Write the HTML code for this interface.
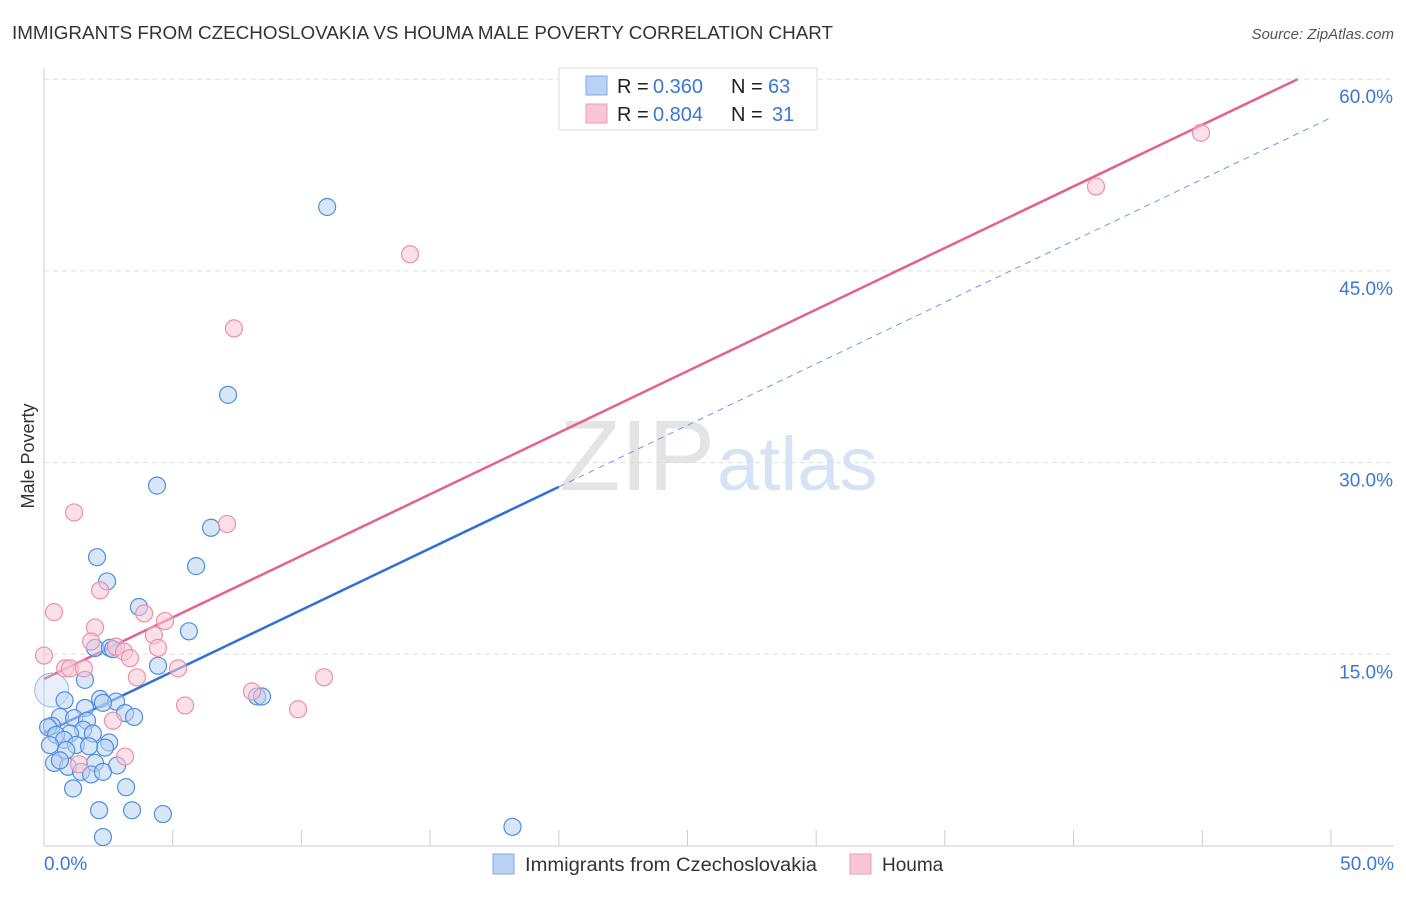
<!DOCTYPE html>
<html><head><meta charset="utf-8"><style>
body{margin:0;background:#fff;font-family:"Liberation Sans",sans-serif}
svg text{font-family:"Liberation Sans",sans-serif}
</style></head><body>
<svg id="chart" width="1406" height="892" xmlns="http://www.w3.org/2000/svg">
<text x="12" y="39" font-size="18" fill="#333" textLength="821" lengthAdjust="spacingAndGlyphs">IMMIGRANTS FROM CZECHOSLOVAKIA VS HOUMA MALE POVERTY CORRELATION CHART</text>
<text x="1394" y="39" font-size="15" fill="#555" font-style="italic" text-anchor="end">Source: ZipAtlas.com</text>
<text x="715" y="490" font-size="100" fill="#e4e4e4" text-anchor="end" font-family="Liberation Serif">ZIP</text>
<text x="717" y="490" font-size="76" fill="#d6e3f5">atlas</text>
<text x="34" y="456" font-size="18" fill="#333" text-anchor="middle" transform="rotate(-90 34 456)">Male Poverty</text>
<g id="grid"></g><g id="axes"></g><g id="lines"></g><g id="pts"></g>
<g>
<rect x="559" y="68" width="258" height="62" fill="#fff" stroke="#ddd"/>
<rect x="586" y="76" width="21" height="19" fill="#b9d2f3" stroke="#7faae6"/>
<rect x="586" y="104" width="21" height="19" fill="#f9c6d5" stroke="#ef9ab4"/>
<text x="617" y="93" font-size="20" fill="#222">R =</text>
<text x="653" y="93" font-size="20" fill="#3a78d4">0.360</text>
<text x="731" y="93" font-size="20" fill="#222">N =</text>
<text x="768" y="93" font-size="20" fill="#3a78d4">63</text>
<text x="617" y="121" font-size="20" fill="#222">R =</text>
<text x="653" y="121" font-size="20" fill="#3a78d4">0.804</text>
<text x="731" y="121" font-size="20" fill="#222">N =</text>
<text x="772" y="121" font-size="20" fill="#3a78d4">31</text>
</g>
<g>
<rect x="493" y="854" width="21" height="20" fill="#b9d2f3" stroke="#7faae6"/>
<text x="525" y="871" font-size="19" fill="#333" textLength="292" lengthAdjust="spacingAndGlyphs">Immigrants from Czechoslovakia</text>
<rect x="850" y="854" width="21" height="20" fill="#f9c6d5" stroke="#ef9ab4"/>
<text x="882" y="871" font-size="19" fill="#333">Houma</text>
</g>
</svg>
<script>
const yTicks=[15,30,45,60];
const yTickLabels=["15.0%","30.0%","45.0%","60.0%"];
const xTicks=[0,5,10,15,20,25,30,35,40,45,50];
const blueX=[11.0,7.15,4.39,6.49,2.06,5.91,2.45,3.69,5.63,1.98,2.56,2.68,4.43,1.59,0.8,2.18,2.8,2.29,8.28,8.47,1.59,3.15,3.5,0.62,1.17,1.67,0.31,0.16,1.52,1.01,1.9,0.47,0.78,1.24,2.53,2.37,0.86,1.75,0.39,0.93,1.98,2.84,1.44,1.83,2.29,1.13,3.19,2.14,3.42,4.62,2.29,18.2,0.23,0.62];
const blueY=[50.0,35.3,28.2,24.9,22.6,21.9,20.7,18.7,16.8,15.5,15.5,15.4,14.1,13.0,11.4,11.5,11.3,11.2,11.7,11.7,10.8,10.4,10.1,10.1,10.0,9.8,9.4,9.3,9.1,8.8,8.8,8.7,8.3,7.9,8.1,7.7,7.5,7.8,6.5,6.2,6.5,6.3,5.8,5.6,5.8,4.5,4.6,2.8,2.8,2.5,0.7,1.5,7.9,6.7];
const pinkX=[44.95,40.87,14.22,7.38,1.17,7.11,2.18,0.39,3.89,4.7,1.98,1.83,2.8,4.27,3.11,3.34,4.43,0,0.82,1.01,1.55,5.21,3.61,10.88,8.08,5.48,9.87,2.68,3.15,1.36];
const pinkY=[55.8,51.6,46.3,40.5,26.1,25.2,20.0,18.3,18.2,17.6,17.1,16.0,15.6,16.5,15.2,14.7,15.5,14.9,13.9,13.9,13.9,13.9,13.2,13.2,12.1,11.0,10.7,9.8,7.0,6.4];
const blueLine=[8.84,0.963]; const pinkLine=[13.07,0.9636];
const X=v=>44+v/50*1287, Y=v=>846-v/15*191.7;
const NS="http://www.w3.org/2000/svg";
function mk(p,t,a){const e=document.createElementNS(NS,t);for(const k in a)e.setAttribute(k,a[k]);document.getElementById(p).appendChild(e);return e;}
yTicks.forEach((t,i)=>{
 const g=mk('grid','line',{x1:44,x2:1394,y1:Y(t),y2:Y(t),stroke:'#ddd','stroke-dasharray':'5,4'});
 
 
 const l=mk('axes','text',{x:1393,y:Y(t)+24,'font-size':19,fill:'#3a78d4','text-anchor':'end'});l.textContent=yTickLabels[i];
 
 
});
const ax=mk('axes','line',{x1:44,x2:44,y1:68,y2:846,stroke:'#ccc'});


const bx=mk('axes','line',{x1:44,x2:1394,y1:846,y2:846,stroke:'#ccc'});


xTicks.slice(1).forEach(t=>{const e=mk('axes','line',{x1:X(t),x2:X(t),y1:830,y2:846,stroke:'#ccc'});
 
 });
[[0,'0.0%','start',44],[50,'50.0%','end',1394]].forEach(d=>{const e=mk('axes','text',{x:d[3],y:870,'font-size':19,fill:'#3a78d4','text-anchor':d[2]});e.textContent=d[1];
 
 });
const big=mk('pts','circle',{cx:X(0.3),cy:Y(12.2),r:17,fill:'#b9d2f3','fill-opacity':0.35,stroke:'#7faae6','stroke-width':0.8});


function pts(xs,ys,f,s,n){xs.forEach((x,i)=>{const c=mk('pts','circle',{cx:X(x),cy:Y(ys[i]),r:8.5,fill:f,'fill-opacity':0.55,stroke:s,'stroke-width':1.2});
 
 });}
pts(blueX,blueY,'#b9d2f3','#4f8fe0','blue-point');
pts(pinkX,pinkY,'#f9c6d5','#ec8fac','pink-point');
const bl=mk('lines','line',{x1:X(0),y1:Y(blueLine[0]),x2:X(20),y2:Y(blueLine[0]+20*blueLine[1]),stroke:'#2e6fd8','stroke-width':2.5});


const bd=mk('lines','line',{x1:X(20),y1:Y(blueLine[0]+20*blueLine[1]),x2:X(50),y2:Y(blueLine[0]+50*blueLine[1]),stroke:'#6a9be0','stroke-width':1,'stroke-dasharray':'6,5'});


const pl=mk('lines','line',{x1:X(0),y1:Y(pinkLine[0]),x2:X((60-pinkLine[0])/pinkLine[1]),y2:Y(60),stroke:'#e5618d','stroke-width':2.5});


</script>
</body></html>
